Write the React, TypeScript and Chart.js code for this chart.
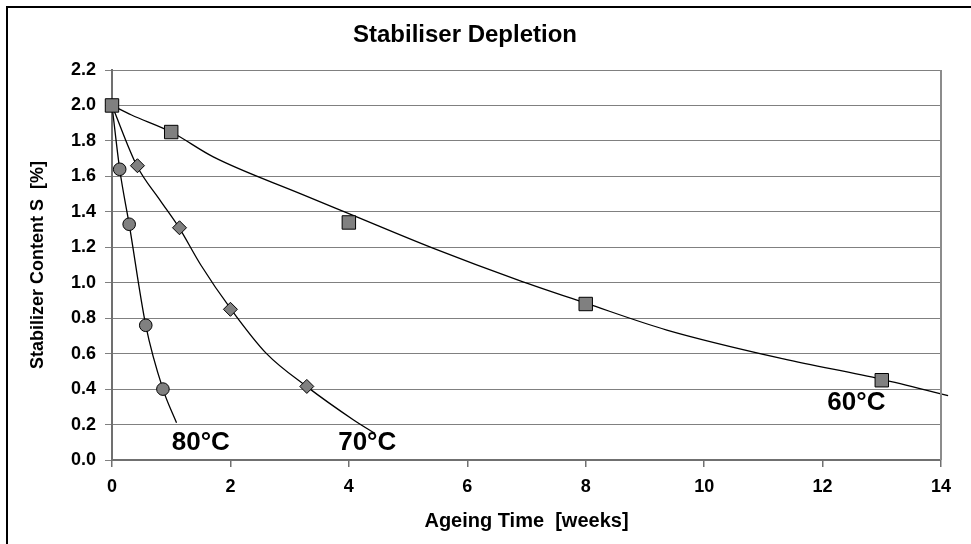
import React, { useEffect, useRef } from "react";
import { Chart, registerables } from "chart.js";

Chart.register(...registerables);

const chartTitle = "Stabiliser Depletion";
const xTitle = "Ageing Time  [weeks]";
const yTitle = "Stabilizer Content S  [%]";

// measured points
const t60 = [0, 1, 4, 8, 13];
const s60 = [2.0, 1.85, 1.34, 0.88, 0.45];
const t70 = [0.43, 1.14, 2.0, 3.29];
const s70 = [1.66, 1.31, 0.85, 0.415];
const t80 = [0.13, 0.29, 0.57, 0.86];
const s80 = [1.64, 1.33, 0.76, 0.4];

// fitted curves
const fit60T = [0, 0.33, 1.0, 1.71, 3.2, 4.0, 5.43, 6.86, 8.0, 9.37, 11.34, 13.0, 14.12];
const fit60S = [2.0, 1.946, 1.85, 1.71, 1.5, 1.39, 1.194, 1.015, 0.885, 0.733, 0.57, 0.455, 0.363];
const fit70T = [0, 0.42, 0.81, 1.13, 1.5, 2.0, 2.61, 3.29, 4.08, 4.44];
const fit70S = [2.0, 1.66, 1.466, 1.312, 1.1, 0.855, 0.6, 0.414, 0.226, 0.15];
const fit80T = [0, 0.13, 0.29, 0.57, 0.86, 1.09];
const fit80S = [2.0, 1.64, 1.33, 0.76, 0.4, 0.21];

const curveLabels = ["80°C", "70°C", "60°C"];
const curveLabelX = [1.01, 3.82, 12.08];
const curveLabelY = [0.056, 0.056, 0.28];

const toXY = (xs: number[], ys: number[]) => xs.map((x, i) => ({ x, y: ys[i] }));

const FONT = "'Liberation Sans', Arial, sans-serif";

const decorPlugin = {
  id: "decor",
  beforeDraw(chart: any) {
    const { ctx, width, height } = chart;
    ctx.save();
    ctx.fillStyle = "#ffffff";
    ctx.fillRect(0, 0, width, height);
    ctx.restore();
  },
  afterDraw(chart: any) {
    const { ctx, chartArea, scales } = chart;
    ctx.save();
    // outer frame (left & top visible)
    ctx.strokeStyle = "#000000";
    ctx.lineWidth = 2;
    ctx.beginPath();
    ctx.moveTo(7, chart.height + 5);
    ctx.lineTo(7, 7);
    ctx.lineTo(chart.width + 5, 7);
    ctx.stroke();
    // right plot border
    ctx.strokeStyle = "#8c8c8c";
    ctx.lineWidth = 2;
    ctx.beginPath();
    ctx.moveTo(chartArea.right, chartArea.top);
    ctx.lineTo(chartArea.right, chartArea.bottom);
    ctx.stroke();
    // title
    ctx.fillStyle = "#000000";
    ctx.font = `bold 24px ${FONT}`;
    ctx.textAlign = "center";
    ctx.textBaseline = "alphabetic";
    ctx.fillText(chartTitle, 465, 42);
    // curve labels
    ctx.font = `bold 26px ${FONT}`;
    ctx.textAlign = "left";
    curveLabels.forEach((txt, i) => {
      const px = scales.x.getPixelForValue(curveLabelX[i]);
      const py = scales.y.getPixelForValue(curveLabelY[i]);
      ctx.fillText(txt, px, py);
    });
    ctx.restore();
  },
};

export default function App() {
  const ref = useRef<HTMLCanvasElement | null>(null);

  useEffect(() => {
    if (!ref.current) return;
    const markerCommon = {
      showLine: false,
      clip: false,
      backgroundColor: "#808080",
      borderColor: "#000000",
      borderWidth: 1,
      pointBackgroundColor: "#808080",
      pointBorderColor: "#000000",
      pointBorderWidth: 1,
    };
    const lineCommon = {
      showLine: true,
      borderColor: "#000000",
      borderWidth: 1.3,
      pointRadius: 0,
      pointHoverRadius: 0,
      fill: false,
      cubicInterpolationMode: "monotone" as const,
    };
    const chart = new Chart(ref.current, {
      type: "scatter",
      data: {
        datasets: [
          { ...markerCommon, label: "60°C", data: toXY(t60, s60), pointStyle: "rect", pointRadius: 9.5 },
          { ...markerCommon, label: "70°C", data: toXY(t70, s70), pointStyle: "rectRot", pointRadius: 7 },
          { ...markerCommon, label: "80°C", data: toXY(t80, s80), pointStyle: "circle", pointRadius: 6.3 },
          { ...lineCommon, label: "fit 60", data: toXY(fit60T, fit60S), clip: { left: 0, top: 0, right: 10, bottom: 0 } },
          { ...lineCommon, label: "fit 70", data: toXY(fit70T, fit70S) },
          { ...lineCommon, label: "fit 80", data: toXY(fit80T, fit80S) },
        ] as any,
      },
      options: {
        animation: false,
        responsive: false,
        devicePixelRatio: 1,
        layout: { padding: { top: 70, right: 30, left: 0, bottom: 0 } },
        plugins: {
          legend: { display: false },
          title: { display: false },
          tooltip: { enabled: false },
        },
        scales: {
          x: {
            type: "linear",
            min: 0,
            max: 14,
            afterFit: (s: any) => {
              s.height = 84;
            },
            ticks: {
              stepSize: 2,
              color: "#000000",
              font: { family: FONT, size: 18, weight: "bold" },
              padding: 9,
              maxRotation: 0,
            },
            grid: {
              drawOnChartArea: false,
              drawTicks: true,
              tickLength: 7,
              color: "#707070",
              lineWidth: 1.5,
            },
            border: { display: true, color: "#707070", width: 2 },
            title: {
              display: true,
              text: xTitle,
              color: "#000000",
              font: { family: FONT, size: 20, weight: "bold" },
              padding: { top: 0, bottom: 11 },
            },
          },
          y: {
            type: "linear",
            min: 0,
            max: 2.2,
            afterFit: (s: any) => {
              s.width = 112;
            },
            ticks: {
              stepSize: 0.2,
              color: "#000000",
              font: { family: FONT, size: 18, weight: "bold" },
              padding: 9,
              callback: (v: any) => Number(v).toFixed(1),
            },
            grid: {
              drawOnChartArea: true,
              drawTicks: true,
              tickLength: 7,
              color: "#808080",
              lineWidth: 1,
            },
            border: { display: true, color: "#707070", width: 2 },
            title: {
              display: true,
              text: yTitle,
              color: "#000000",
              font: { family: FONT, size: 18, weight: "bold" },
              padding: { top: 27, bottom: 0 },
            },
          },
        },
      },
      plugins: [decorPlugin],
    });
    return () => chart.destroy();
  }, []);

  return (
    <div style={{ position: "fixed", left: 0, top: 0, width: 971, height: 544, background: "#fff" }}>
      <canvas ref={ref} width={971} height={544} style={{ display: "block", width: 971, height: 544 }} />
    </div>
  );
}
